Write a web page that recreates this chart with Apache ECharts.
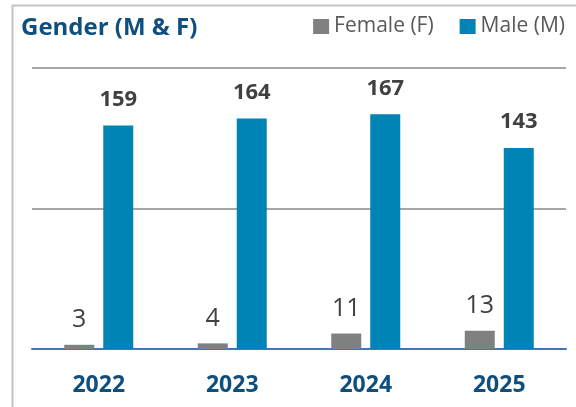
<!DOCTYPE html>
<html>
<head>
<meta charset="utf-8">
<script src="https://cdn.jsdelivr.net/npm/echarts@6/dist/echarts.min.js"></script>
<style>
  html, body { margin: 0; padding: 0; background: #fff; }
  #chart { width: 576px; height: 407px; }
</style>
</head>
<body>
<div id="chart"></div>
<script>
const years = ['2022', '2023', '2024', '2025']
const female = [3, 4, 11, 13]
const male = [159, 164, 167, 143]
const yTicks = [0, 100, 200]

const chart = echarts.init(document.getElementById('chart'))

chart.setOption({
  backgroundColor: '#ffffff',
  textStyle: { fontFamily: 'Open Sans' },
  graphic: [{
    type: 'rect',
    left: 10,
    top: 3,
    shape: { width: 800, height: 600 },
    style: { fill: 'none', stroke: '#c4c4c4', lineWidth: 2 },
    silent: true
  }],
  title: {
    text: 'Gender (M & F)',
    left: 16,
    top: 11,
    textStyle: {
      fontFamily: 'Open Sans',
      fontWeight: 'bold',
      fontSize: 24,
      color: '#0f4f7e'
    }
  },
  legend: {
    right: 6,
    top: 11,
    itemWidth: 16,
    itemHeight: 15,
    itemGap: 26,
    icon: 'rect',
    textStyle: {
      fontFamily: 'Open Sans',
      fontSize: 21,
      color: '#595959'
    },
    data: ['Female (F)', 'Male (M)']
  },
  grid: {
    left: 32,
    right: 10,
    top: 68,
    bottom: 58
  },
  xAxis: {
    type: 'category',
    data: years,
    axisTick: { show: false },
    axisLine: { lineStyle: { color: '#4472c4', width: 2 } },
    axisLabel: {
      margin: 25,
      fontFamily: 'Open Sans',
      fontWeight: 'bold',
      fontSize: 23,
      color: '#0f4f7e'
    }
  },
  yAxis: {
    type: 'value',
    min: yTicks[0],
    max: yTicks[yTicks.length - 1],
    interval: 100,
    axisLabel: { show: false },
    axisLine: { show: false },
    axisTick: { show: false },
    splitLine: { lineStyle: { color: '#a6a6a6', width: 2 } }
  },
  series: [{
    name: 'Female (F)',
    type: 'bar',
    data: female,
    barWidth: 30,
    barGap: '30%',
    itemStyle: { color: '#808080' },
    label: {
      show: true,
      position: 'top',
      distance: 12,
      fontFamily: 'Open Sans',
      fontSize: 25,
      color: '#404040'
    }
  }, {
    name: 'Male (M)',
    type: 'bar',
    data: male,
    barWidth: 30,
    itemStyle: { color: '#0083b5' },
    label: {
      show: true,
      position: 'top',
      distance: 15,
      fontFamily: 'Open Sans',
      fontWeight: 'bold',
      fontSize: 22,
      color: '#404040'
    }
  }]
})
</script>
</body>
</html>
